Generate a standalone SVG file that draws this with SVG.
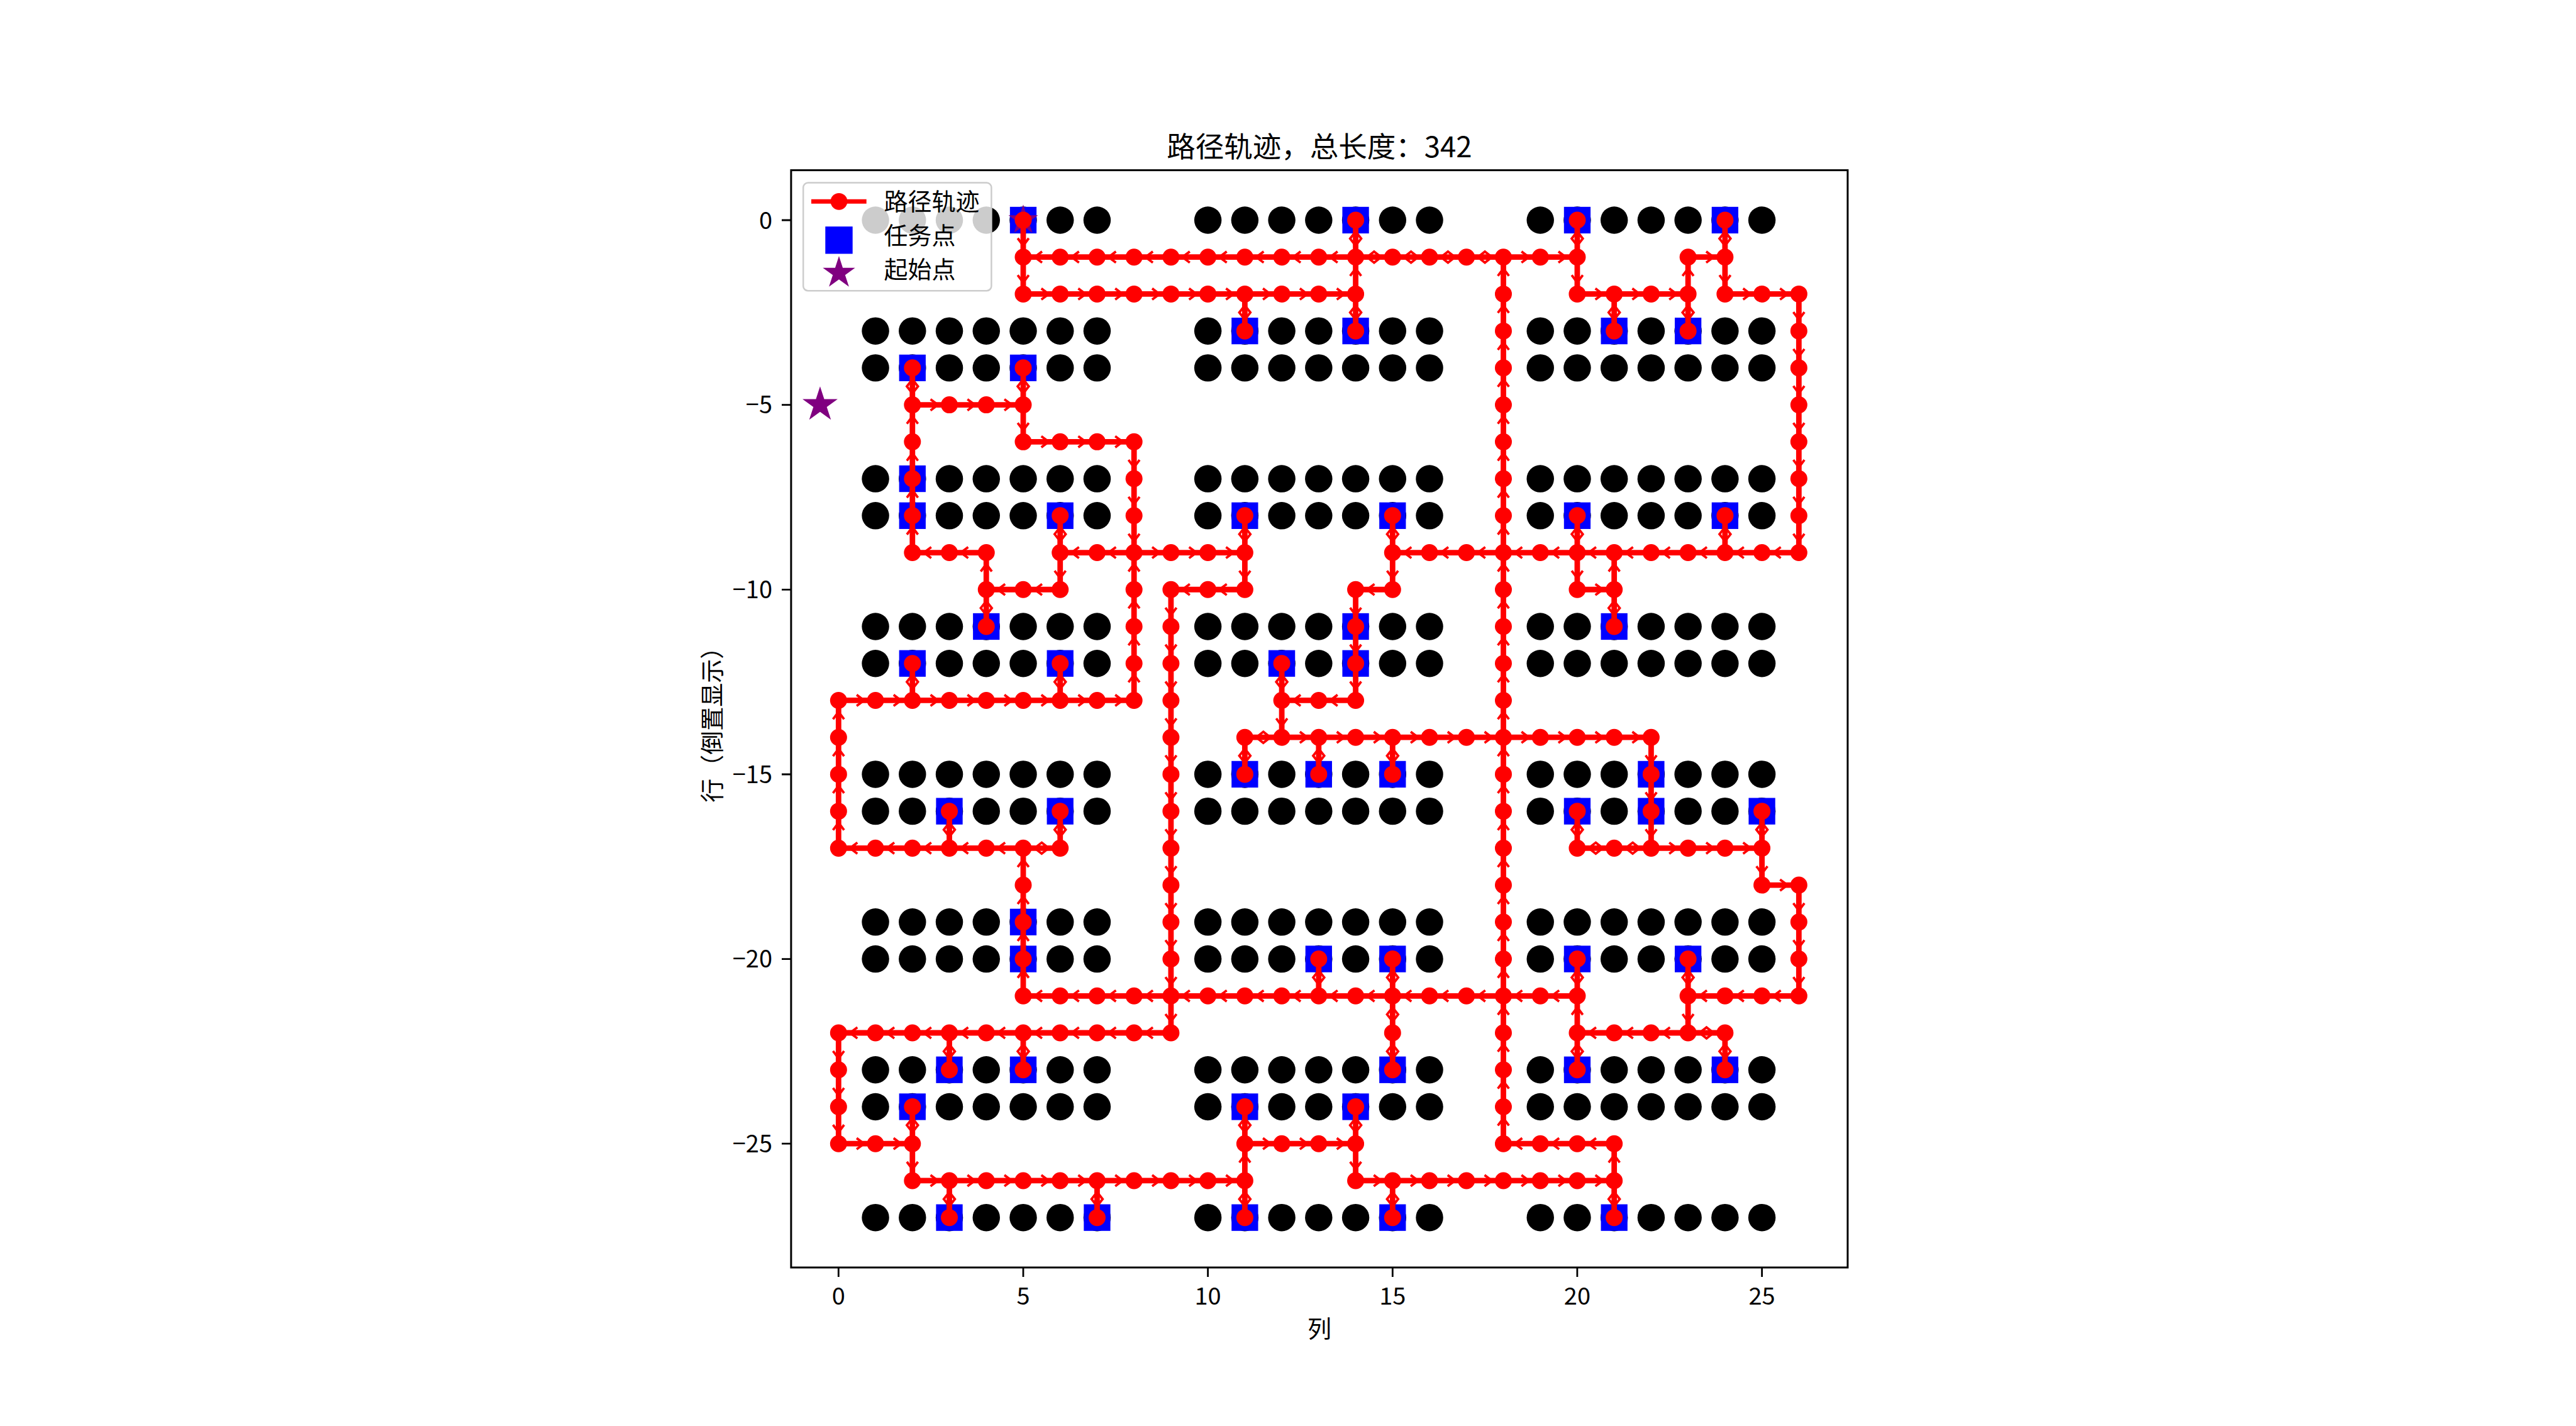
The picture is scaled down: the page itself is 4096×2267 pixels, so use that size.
<svg xmlns="http://www.w3.org/2000/svg" xmlns:xlink="http://www.w3.org/1999/xlink" width="4096" height="2267" viewBox="0 0 4096 2267">
<style>
.dot{fill:#000}
.task{fill:#0000ff}
.route{fill:none;stroke:#ff0000;stroke-width:.15;stroke-linecap:square;stroke-linejoin:round}
.nodes{fill:none;stroke:#ff0000;stroke-width:.46;stroke-linecap:round}
.arr{fill:none;stroke:#ff0000;stroke-width:.065;stroke-linejoin:miter}
.star{fill:#800080}
.spine{fill:none;stroke:#000;stroke-width:3}
.tick{stroke:#000;stroke-width:2.8}
text{font-family:"Noto Sans CJK SC","Noto Sans",sans-serif;fill:#000}
.tl{font-size:38px}
</style>
<defs>
<g id="dr">
<circle cx="1" cy="0" r=".37"/><circle cx="2" cy="0" r=".37"/><circle cx="3" cy="0" r=".37"/><circle cx="4" cy="0" r=".37"/><circle cx="5" cy="0" r=".37"/><circle cx="6" cy="0" r=".37"/><circle cx="7" cy="0" r=".37"/>
<circle cx="10" cy="0" r=".37"/><circle cx="11" cy="0" r=".37"/><circle cx="12" cy="0" r=".37"/><circle cx="13" cy="0" r=".37"/><circle cx="14" cy="0" r=".37"/><circle cx="15" cy="0" r=".37"/><circle cx="16" cy="0" r=".37"/>
<circle cx="19" cy="0" r=".37"/><circle cx="20" cy="0" r=".37"/><circle cx="21" cy="0" r=".37"/><circle cx="22" cy="0" r=".37"/><circle cx="23" cy="0" r=".37"/><circle cx="24" cy="0" r=".37"/><circle cx="25" cy="0" r=".37"/>
</g>
<rect id="sq" x="-.36" y="-.36" width=".72" height=".72"/>
<path id="st" d="M0-1L.2245-.309L.951-.309L.363.118L.588.809L0 .382L-.588.809L-.363.118L-.951-.309L-.2245-.309Z"/>
<path id="aR" d="M.49-.15L.69 0L.49 .15"/>
<path id="aL" d="M-.49-.15L-.69 0L-.49 .15"/>
<path id="aD" d="M-.15 .49L0 .69L.15 .49"/>
<path id="aU" d="M-.15-.49L0-.69L.15-.49"/>
<path id="dH" d="M.5-.15L.69 0L.5 .15L.31 0Z"/>
<path id="dV" d="M-.15 .5L0 .69L.15 .5L0 .31Z"/>
</defs>
<rect x="0" y="0" width="4096" height="2267" fill="#fff"/>

<g id="plot" transform="translate(1333.34 349.96) scale(58.73)">
<g id="shelves" class="dot">
<use href="#dr" y="0"/><use href="#dr" y="3"/><use href="#dr" y="4"/><use href="#dr" y="7"/><use href="#dr" y="8"/><use href="#dr" y="11"/><use href="#dr" y="12"/><use href="#dr" y="15"/><use href="#dr" y="16"/><use href="#dr" y="19"/><use href="#dr" y="20"/><use href="#dr" y="23"/><use href="#dr" y="24"/><use href="#dr" y="27"/>
</g>
<g id="tasks" class="task">
<use href="#sq" x="5" y="0"/><use href="#sq" x="14" y="0"/><use href="#sq" x="20" y="0"/><use href="#sq" x="24" y="0"/>
<use href="#sq" x="11" y="3"/><use href="#sq" x="14" y="3"/><use href="#sq" x="21" y="3"/><use href="#sq" x="23" y="3"/>
<use href="#sq" x="2" y="4"/><use href="#sq" x="5" y="4"/>
<use href="#sq" x="2" y="7"/>
<use href="#sq" x="2" y="8"/><use href="#sq" x="6" y="8"/><use href="#sq" x="11" y="8"/><use href="#sq" x="15" y="8"/><use href="#sq" x="20" y="8"/><use href="#sq" x="24" y="8"/>
<use href="#sq" x="4" y="11"/><use href="#sq" x="14" y="11"/><use href="#sq" x="21" y="11"/>
<use href="#sq" x="2" y="12"/><use href="#sq" x="6" y="12"/><use href="#sq" x="12" y="12"/><use href="#sq" x="14" y="12"/>
<use href="#sq" x="11" y="15"/><use href="#sq" x="13" y="15"/><use href="#sq" x="15" y="15"/><use href="#sq" x="22" y="15"/>
<use href="#sq" x="3" y="16"/><use href="#sq" x="6" y="16"/><use href="#sq" x="20" y="16"/><use href="#sq" x="22" y="16"/><use href="#sq" x="25" y="16"/>
<use href="#sq" x="5" y="19"/>
<use href="#sq" x="5" y="20"/><use href="#sq" x="13" y="20"/><use href="#sq" x="15" y="20"/><use href="#sq" x="20" y="20"/><use href="#sq" x="23" y="20"/>
<use href="#sq" x="3" y="23"/><use href="#sq" x="5" y="23"/><use href="#sq" x="15" y="23"/><use href="#sq" x="20" y="23"/><use href="#sq" x="24" y="23"/>
<use href="#sq" x="2" y="24"/><use href="#sq" x="11" y="24"/><use href="#sq" x="14" y="24"/>
<use href="#sq" x="3" y="27"/><use href="#sq" x="7" y="27"/><use href="#sq" x="11" y="27"/><use href="#sq" x="15" y="27"/><use href="#sq" x="21" y="27"/>
</g>
<g id="stars" class="star">
<use href="#st" transform="translate(5 0) scale(.42)"/>
<use href="#st" transform="translate(-.5 5) scale(.5)"/>
</g>
<g id="connectors">
<path class="route" d="M5 0V2H14M11 2V3M14 3V0M5 1H20M20 0V2H23M21 2V3M23 3V1H24M24 0V2H26V9H15M24 8V9M20 8V10H21M21 9V11M15 8V10H14V13H12V12M12 13V14M11 14H22V17M11 15V14M13 15V14M15 15V14M20 16V17H25V16M25 17V18H26V21H23V20M23 21V22M20 20V23M20 22H24V23M5 21H20M15 20V23M13 20V21M5 17V21M0 17H6V16M3 16V17M0 13V17M0 13H8M8 6V13M2 12V13M6 12V13M6 8V10H4V9M4 9V11M2 9H4M6 9H11M2 4V9M2 5H5M5 4V6H8M11 8V10H9V22H0V25H2V24M2 25V26H11M11 27V24M11 25H14M14 24V26H21M21 27V25H18V1M3 22V23M5 22V23M3 26V27M7 26V27M15 26V27"/>
<g class="arr">
<use href="#aD" x="5" y="0"/><use href="#aD" x="5" y="1"/><use href="#aD" x="20" y="1"/><use href="#aD" x="24" y="1"/><use href="#aD" x="26" y="2"/><use href="#aD" x="26" y="3"/><use href="#aD" x="26" y="4"/><use href="#aD" x="26" y="5"/><use href="#aD" x="26" y="6"/><use href="#aD" x="26" y="7"/><use href="#aD" x="26" y="8"/><use href="#aD" x="20" y="9"/><use href="#aD" x="15" y="9"/><use href="#aD" x="14" y="10"/><use href="#aD" x="14" y="11"/><use href="#aD" x="14" y="12"/><use href="#aD" x="12" y="13"/><use href="#aD" x="22" y="14"/><use href="#aD" x="22" y="15"/><use href="#aD" x="22" y="16"/><use href="#aD" x="25" y="17"/><use href="#aD" x="26" y="18"/><use href="#aD" x="26" y="19"/><use href="#aD" x="26" y="20"/><use href="#aD" x="23" y="21"/><use href="#aD" x="6" y="9"/><use href="#aD" x="5" y="5"/><use href="#aD" x="8" y="6"/><use href="#aD" x="8" y="7"/><use href="#aD" x="8" y="8"/><use href="#aD" x="11" y="9"/><use href="#aD" x="9" y="10"/><use href="#aD" x="9" y="11"/><use href="#aD" x="9" y="12"/><use href="#aD" x="9" y="13"/><use href="#aD" x="9" y="14"/><use href="#aD" x="9" y="15"/><use href="#aD" x="9" y="16"/><use href="#aD" x="9" y="17"/><use href="#aD" x="9" y="18"/><use href="#aD" x="9" y="19"/><use href="#aD" x="9" y="20"/><use href="#aD" x="9" y="21"/><use href="#aD" x="0" y="22"/><use href="#aD" x="0" y="23"/><use href="#aD" x="0" y="24"/><use href="#aD" x="2" y="25"/><use href="#aD" x="14" y="25"/>
<use href="#aU" x="14" y="2"/><use href="#aU" x="23" y="2"/><use href="#aU" x="21" y="10"/><use href="#aU" x="20" y="22"/><use href="#aU" x="5" y="21"/><use href="#aU" x="5" y="20"/><use href="#aU" x="5" y="19"/><use href="#aU" x="5" y="18"/><use href="#aU" x="0" y="17"/><use href="#aU" x="0" y="16"/><use href="#aU" x="0" y="15"/><use href="#aU" x="0" y="14"/><use href="#aU" x="8" y="13"/><use href="#aU" x="8" y="12"/><use href="#aU" x="8" y="11"/><use href="#aU" x="8" y="10"/><use href="#aU" x="4" y="10"/><use href="#aU" x="2" y="9"/><use href="#aU" x="2" y="8"/><use href="#aU" x="2" y="7"/><use href="#aU" x="2" y="6"/><use href="#aU" x="11" y="26"/><use href="#aU" x="21" y="26"/>
<use href="#aU" x="18" y="25"/><use href="#aU" x="18" y="24"/><use href="#aU" x="18" y="23"/><use href="#aU" x="18" y="22"/><use href="#aU" x="18" y="21"/><use href="#aU" x="18" y="20"/><use href="#aU" x="18" y="19"/><use href="#aU" x="18" y="18"/><use href="#aU" x="18" y="17"/><use href="#aU" x="18" y="16"/><use href="#aU" x="18" y="15"/><use href="#aU" x="18" y="14"/><use href="#aU" x="18" y="13"/><use href="#aU" x="18" y="12"/><use href="#aU" x="18" y="11"/><use href="#aU" x="18" y="10"/><use href="#aU" x="18" y="9"/><use href="#aU" x="18" y="8"/><use href="#aU" x="18" y="7"/><use href="#aU" x="18" y="6"/><use href="#aU" x="18" y="5"/><use href="#aU" x="18" y="4"/><use href="#aU" x="18" y="3"/><use href="#aU" x="18" y="2"/>
<use href="#aR" x="5" y="2"/><use href="#aR" x="6" y="2"/><use href="#aR" x="7" y="2"/><use href="#aR" x="8" y="2"/><use href="#aR" x="9" y="2"/><use href="#aR" x="10" y="2"/><use href="#aR" x="11" y="2"/><use href="#aR" x="12" y="2"/><use href="#aR" x="13" y="2"/><use href="#aR" x="18" y="1"/><use href="#aR" x="19" y="1"/><use href="#aR" x="20" y="2"/><use href="#aR" x="21" y="2"/><use href="#aR" x="22" y="2"/><use href="#aR" x="23" y="1"/><use href="#aR" x="24" y="2"/><use href="#aR" x="25" y="2"/><use href="#aR" x="20" y="10"/><use href="#aR" x="12" y="14"/><use href="#aR" x="13" y="14"/><use href="#aR" x="14" y="14"/><use href="#aR" x="15" y="14"/><use href="#aR" x="16" y="14"/><use href="#aR" x="17" y="14"/><use href="#aR" x="18" y="14"/><use href="#aR" x="19" y="14"/><use href="#aR" x="20" y="14"/><use href="#aR" x="21" y="14"/><use href="#aR" x="22" y="17"/><use href="#aR" x="23" y="17"/><use href="#aR" x="24" y="17"/><use href="#aR" x="25" y="18"/><use href="#aR" x="0" y="13"/><use href="#aR" x="1" y="13"/><use href="#aR" x="2" y="13"/><use href="#aR" x="3" y="13"/><use href="#aR" x="4" y="13"/><use href="#aR" x="5" y="13"/><use href="#aR" x="6" y="13"/><use href="#aR" x="7" y="13"/><use href="#aR" x="2" y="5"/><use href="#aR" x="3" y="5"/><use href="#aR" x="4" y="5"/><use href="#aR" x="5" y="6"/><use href="#aR" x="6" y="6"/><use href="#aR" x="7" y="6"/><use href="#aR" x="8" y="9"/><use href="#aR" x="9" y="9"/><use href="#aR" x="10" y="9"/><use href="#aR" x="0" y="25"/><use href="#aR" x="1" y="25"/><use href="#aR" x="2" y="26"/><use href="#aR" x="3" y="26"/><use href="#aR" x="4" y="26"/><use href="#aR" x="5" y="26"/><use href="#aR" x="6" y="26"/><use href="#aR" x="7" y="26"/><use href="#aR" x="8" y="26"/><use href="#aR" x="9" y="26"/><use href="#aR" x="10" y="26"/><use href="#aR" x="11" y="25"/><use href="#aR" x="12" y="25"/><use href="#aR" x="13" y="25"/><use href="#aR" x="14" y="26"/><use href="#aR" x="15" y="26"/><use href="#aR" x="16" y="26"/><use href="#aR" x="17" y="26"/><use href="#aR" x="18" y="26"/><use href="#aR" x="19" y="26"/><use href="#aR" x="20" y="26"/>
<use href="#aL" x="26" y="9"/><use href="#aL" x="25" y="9"/><use href="#aL" x="24" y="9"/><use href="#aL" x="23" y="9"/><use href="#aL" x="22" y="9"/><use href="#aL" x="21" y="9"/><use href="#aL" x="20" y="9"/><use href="#aL" x="19" y="9"/><use href="#aL" x="18" y="9"/><use href="#aL" x="17" y="9"/><use href="#aL" x="16" y="9"/><use href="#aL" x="15" y="10"/><use href="#aL" x="14" y="13"/><use href="#aL" x="13" y="13"/><use href="#aL" x="26" y="21"/><use href="#aL" x="25" y="21"/><use href="#aL" x="24" y="21"/><use href="#aL" x="23" y="22"/><use href="#aL" x="22" y="22"/><use href="#aL" x="21" y="22"/><use href="#aL" x="20" y="21"/><use href="#aL" x="19" y="21"/><use href="#aL" x="18" y="21"/><use href="#aL" x="17" y="21"/><use href="#aL" x="16" y="21"/><use href="#aL" x="15" y="21"/><use href="#aL" x="14" y="21"/><use href="#aL" x="13" y="21"/><use href="#aL" x="12" y="21"/><use href="#aL" x="11" y="21"/><use href="#aL" x="10" y="21"/><use href="#aL" x="9" y="21"/><use href="#aL" x="8" y="21"/><use href="#aL" x="7" y="21"/><use href="#aL" x="6" y="21"/><use href="#aL" x="5" y="17"/><use href="#aL" x="4" y="17"/><use href="#aL" x="3" y="17"/><use href="#aL" x="2" y="17"/><use href="#aL" x="1" y="17"/><use href="#aL" x="8" y="9"/><use href="#aL" x="7" y="9"/><use href="#aL" x="6" y="10"/><use href="#aL" x="5" y="10"/><use href="#aL" x="4" y="9"/><use href="#aL" x="3" y="9"/><use href="#aL" x="11" y="10"/><use href="#aL" x="10" y="10"/><use href="#aL" x="9" y="22"/><use href="#aL" x="8" y="22"/><use href="#aL" x="7" y="22"/><use href="#aL" x="6" y="22"/><use href="#aL" x="5" y="22"/><use href="#aL" x="4" y="22"/><use href="#aL" x="3" y="22"/><use href="#aL" x="2" y="22"/><use href="#aL" x="1" y="22"/><use href="#aL" x="21" y="25"/><use href="#aL" x="20" y="25"/><use href="#aL" x="19" y="25"/><use href="#aL" x="14" y="1"/><use href="#aL" x="13" y="1"/><use href="#aL" x="12" y="1"/><use href="#aL" x="11" y="1"/><use href="#aL" x="10" y="1"/><use href="#aL" x="9" y="1"/><use href="#aL" x="8" y="1"/><use href="#aL" x="7" y="1"/><use href="#aL" x="6" y="1"/>
<use href="#dV" x="11" y="2"/><use href="#dV" x="14" y="2"/><use href="#dV" x="14" y="0"/><use href="#dV" x="20" y="0"/><use href="#dV" x="21" y="2"/><use href="#dV" x="23" y="2"/><use href="#dV" x="24" y="0"/><use href="#dV" x="24" y="8"/><use href="#dV" x="20" y="8"/><use href="#dV" x="21" y="10"/><use href="#dV" x="15" y="8"/><use href="#dV" x="12" y="12"/><use href="#dV" x="11" y="14"/><use href="#dV" x="13" y="14"/><use href="#dV" x="15" y="14"/><use href="#dV" x="20" y="16"/><use href="#dV" x="25" y="16"/><use href="#dV" x="23" y="20"/><use href="#dV" x="24" y="22"/><use href="#dV" x="20" y="22"/><use href="#dV" x="20" y="20"/><use href="#dV" x="15" y="20"/><use href="#dV" x="15" y="21"/><use href="#dV" x="15" y="22"/><use href="#dV" x="13" y="20"/><use href="#dV" x="6" y="16"/><use href="#dV" x="3" y="16"/><use href="#dV" x="2" y="12"/><use href="#dV" x="6" y="12"/><use href="#dV" x="6" y="8"/><use href="#dV" x="4" y="10"/><use href="#dV" x="2" y="4"/><use href="#dV" x="5" y="4"/><use href="#dV" x="11" y="8"/><use href="#dV" x="5" y="22"/><use href="#dV" x="3" y="22"/><use href="#dV" x="2" y="24"/><use href="#dV" x="3" y="26"/><use href="#dV" x="7" y="26"/><use href="#dV" x="11" y="26"/><use href="#dV" x="11" y="24"/><use href="#dV" x="14" y="24"/><use href="#dV" x="15" y="26"/><use href="#dV" x="21" y="26"/>
<use href="#dH" x="14" y="1"/><use href="#dH" x="15" y="1"/><use href="#dH" x="16" y="1"/><use href="#dH" x="17" y="1"/><use href="#dH" x="11" y="14"/><use href="#dH" x="20" y="17"/><use href="#dH" x="21" y="17"/><use href="#dH" x="23" y="22"/><use href="#dH" x="5" y="17"/>
</g>
</g>
<path id="route-nodes" class="nodes" d="M5 0h0M14 0h0M20 0h0M24 0h0
M5 1h0M6 1h0M7 1h0M8 1h0M9 1h0M10 1h0M11 1h0M12 1h0M13 1h0M14 1h0M15 1h0M16 1h0M17 1h0M18 1h0M19 1h0M20 1h0M23 1h0M24 1h0
M5 2h0M6 2h0M7 2h0M8 2h0M9 2h0M10 2h0M11 2h0M12 2h0M13 2h0M14 2h0M18 2h0M20 2h0M21 2h0M22 2h0M23 2h0M24 2h0M25 2h0M26 2h0
M11 3h0M14 3h0M18 3h0M21 3h0M23 3h0M26 3h0
M2 4h0M5 4h0M18 4h0M26 4h0
M2 5h0M3 5h0M4 5h0M5 5h0M18 5h0M26 5h0
M2 6h0M5 6h0M6 6h0M7 6h0M8 6h0M18 6h0M26 6h0
M2 7h0M8 7h0M18 7h0M26 7h0
M2 8h0M6 8h0M8 8h0M11 8h0M15 8h0M18 8h0M20 8h0M24 8h0M26 8h0
M2 9h0M3 9h0M4 9h0M6 9h0M7 9h0M8 9h0M9 9h0M10 9h0M11 9h0M15 9h0M16 9h0M17 9h0M18 9h0M19 9h0M20 9h0M21 9h0M22 9h0M23 9h0M24 9h0M25 9h0M26 9h0
M4 10h0M5 10h0M6 10h0M8 10h0M9 10h0M10 10h0M11 10h0M14 10h0M15 10h0M18 10h0M20 10h0M21 10h0
M4 11h0M8 11h0M9 11h0M14 11h0M18 11h0M21 11h0
M2 12h0M6 12h0M8 12h0M9 12h0M12 12h0M14 12h0M18 12h0
M0 13h0M1 13h0M2 13h0M3 13h0M4 13h0M5 13h0M6 13h0M7 13h0M8 13h0M9 13h0M12 13h0M13 13h0M14 13h0M18 13h0
M0 14h0M9 14h0M11 14h0M12 14h0M13 14h0M14 14h0M15 14h0M16 14h0M17 14h0M18 14h0M19 14h0M20 14h0M21 14h0M22 14h0
M0 15h0M9 15h0M11 15h0M13 15h0M15 15h0M18 15h0M22 15h0
M0 16h0M3 16h0M6 16h0M9 16h0M18 16h0M20 16h0M22 16h0M25 16h0
M0 17h0M1 17h0M2 17h0M3 17h0M4 17h0M5 17h0M6 17h0M9 17h0M18 17h0M20 17h0M21 17h0M22 17h0M23 17h0M24 17h0M25 17h0
M5 18h0M9 18h0M18 18h0M25 18h0M26 18h0
M5 19h0M9 19h0M18 19h0M26 19h0
M5 20h0M9 20h0M13 20h0M15 20h0M18 20h0M20 20h0M23 20h0M26 20h0
M5 21h0M6 21h0M7 21h0M8 21h0M9 21h0M10 21h0M11 21h0M12 21h0M13 21h0M14 21h0M15 21h0M16 21h0M17 21h0M18 21h0M19 21h0M20 21h0M23 21h0M24 21h0M25 21h0M26 21h0
M0 22h0M1 22h0M2 22h0M3 22h0M4 22h0M5 22h0M6 22h0M7 22h0M8 22h0M9 22h0M15 22h0M18 22h0M20 22h0M21 22h0M22 22h0M23 22h0M24 22h0
M0 23h0M3 23h0M5 23h0M15 23h0M18 23h0M20 23h0M24 23h0
M0 24h0M2 24h0M11 24h0M14 24h0M18 24h0
M0 25h0M1 25h0M2 25h0M11 25h0M12 25h0M13 25h0M14 25h0M18 25h0M19 25h0M20 25h0M21 25h0
M2 26h0M3 26h0M4 26h0M5 26h0M6 26h0M7 26h0M8 26h0M9 26h0M10 26h0M11 26h0M14 26h0M15 26h0M16 26h0M17 26h0M18 26h0M19 26h0M20 26h0M21 26h0
M3 27h0M7 27h0M11 27h0M15 27h0M21 27h0"/>
</g>

<g id="axes">
<rect class="spine" x="1257.9" y="270.6" width="1680" height="1744.4"/>
<path class="tick" d="M1333.3 2015V2030M1627 2015V2030M1920.6 2015V2030M2214.3 2015V2030M2507.9 2015V2030M2801.6 2015V2030M1243 350H1258M1243 643.6H1258M1243 937.3H1258M1243 1231H1258M1243 1524.6H1258M1243 1818.2H1258"/>
<g class="tl" text-anchor="middle">
<text x="1333.3" y="2074">0</text><text x="1627" y="2074">5</text><text x="1920.6" y="2074">10</text><text x="2214.3" y="2074">15</text><text x="2507.9" y="2074">20</text><text x="2801.6" y="2074">25</text>
</g>
<g class="tl" text-anchor="end">
<text x="1228" y="363.5">0</text><text x="1228" y="657.1">−5</text><text x="1228" y="950.8">−10</text><text x="1228" y="1244.5">−15</text><text x="1228" y="1538.1">−20</text><text x="1228" y="1831.7">−25</text>
</g>
<text x="2097.9" y="2126" font-size="38" text-anchor="middle">列</text>
<text transform="translate(1146.4 1142.8) rotate(-90)" font-size="38" text-anchor="middle">行（倒置显示）</text>
<text x="2097.9" y="250" font-size="45.5" text-anchor="middle">路径轨迹，总长度：342</text>
</g>

<g id="legend">
<rect x="1277.2" y="290.6" width="299.2" height="171.6" rx="7.5" fill="#fff" fill-opacity="0.8" stroke="#cccccc" stroke-width="2.5"/>
<line x1="1290" y1="320.3" x2="1377.7" y2="320.3" stroke="#ff0000" stroke-width="7"/>
<circle cx="1334" cy="320.3" r="13.4" fill="#ff0000"/>
<rect x="1312.3" y="360.1" width="43.4" height="43.4" fill="#0000ff"/>
<use href="#st" class="star" transform="translate(1334 434) scale(27)"/>
<g font-size="38">
<text x="1405.5" y="334">路径轨迹</text>
<text x="1405.5" y="388">任务点</text>
<text x="1405.5" y="442">起始点</text>
</g>
</g>
</svg>
